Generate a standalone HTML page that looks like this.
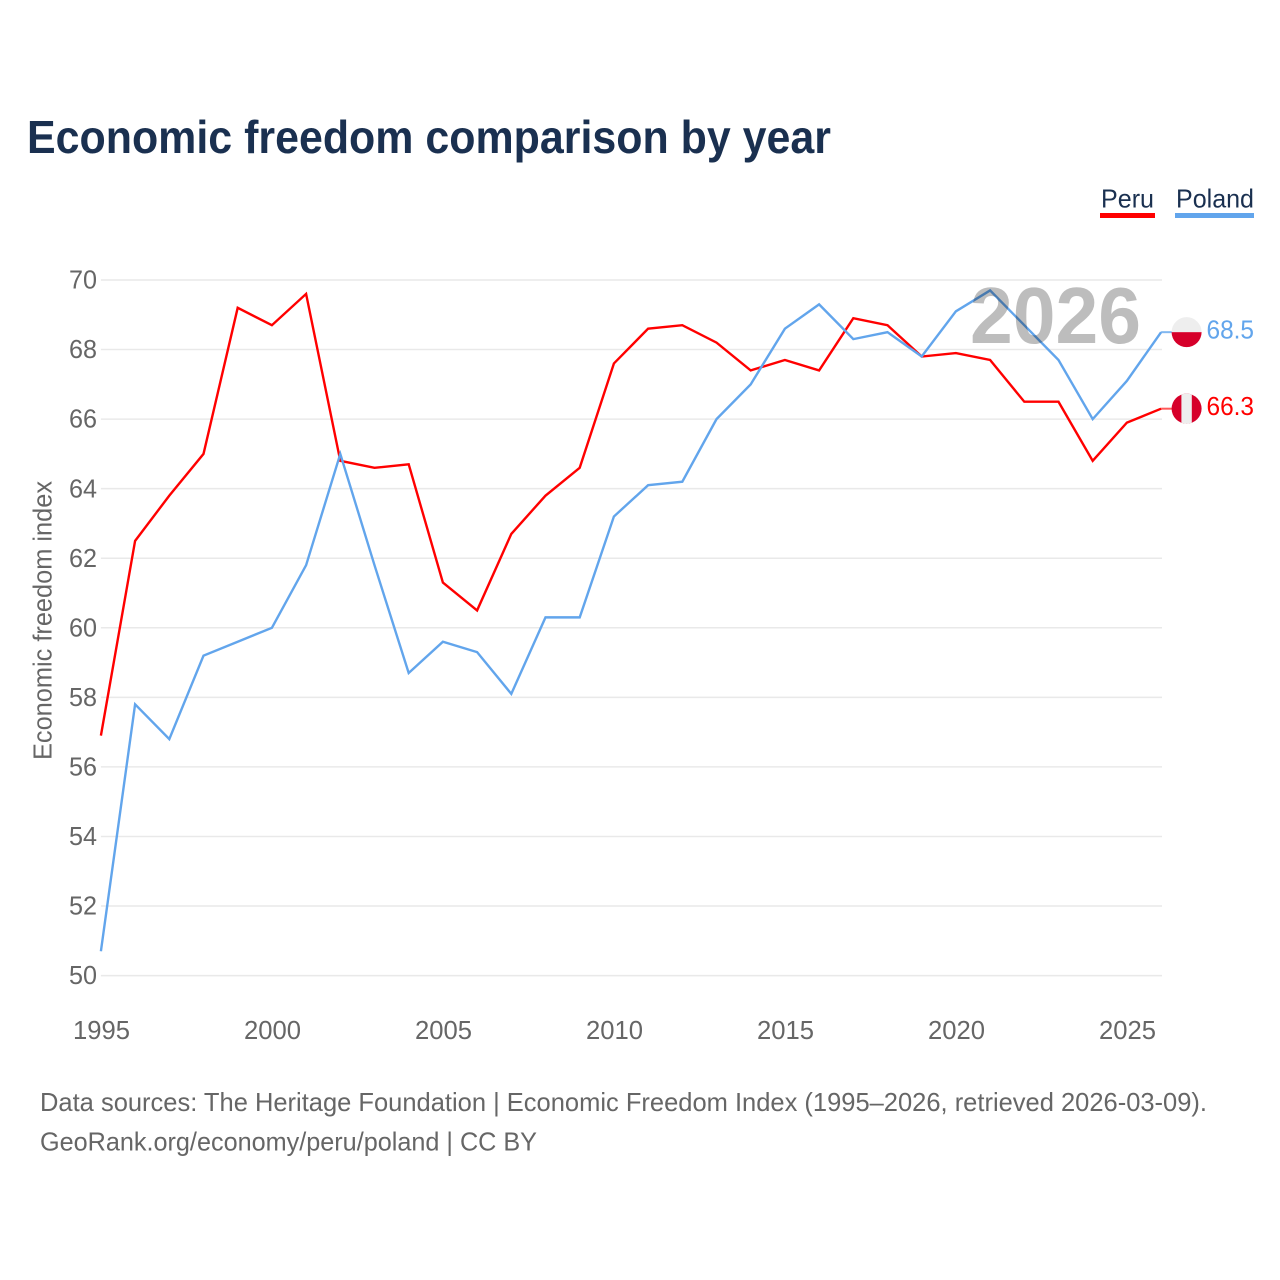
<!DOCTYPE html>
<html lang="en">
<head>
<meta charset="utf-8">
<title>Economic freedom comparison by year</title>
<style>
html,body{margin:0;padding:0;background:#fff;width:1280px;height:1280px;overflow:hidden}
svg{display:block}
text{font-family:"Liberation Sans",sans-serif}
</style>
</head>
<body>
<svg id="chart" xmlns="http://www.w3.org/2000/svg" width="1280" height="1280" viewBox="0 0 1280 1280">
  <rect x="0" y="0" width="1280" height="1280" fill="#ffffff"/>
  <text x="27" y="153" font-size="46" font-weight="700" fill="#1a3050" textLength="804" lengthAdjust="spacingAndGlyphs">Economic freedom comparison by year</text>

  <g>
    <text x="1101" y="207.5" font-size="26" fill="#1a3050" textLength="53" lengthAdjust="spacingAndGlyphs">Peru</text>
    <rect x="1100" y="213" width="55" height="5" fill="#ff0000"/>
  </g>
  <g>
    <text x="1176" y="207.5" font-size="26" fill="#1a3050" textLength="78" lengthAdjust="spacingAndGlyphs">Poland</text>
    <rect x="1175" y="213" width="79" height="5" fill="#62a5ec"/>
  </g>

  <g id="grid"></g>
  <g id="yticks"></g>
  <g id="xticks"></g>
  <text transform="translate(51.5,620.5) rotate(-90)" text-anchor="middle" font-size="25.5" fill="#666666" textLength="279" lengthAdjust="spacingAndGlyphs">Economic freedom index</text>

  <g id="series"></g>

  <text x="970" y="343" font-size="80" font-weight="700" fill="#000000" fill-opacity="0.26" textLength="171" lengthAdjust="spacingAndGlyphs">2026</text>

  <g id="ends"></g>

  <text x="40" y="1111" font-size="26" fill="#666666" textLength="1167" lengthAdjust="spacingAndGlyphs">Data sources: The Heritage Foundation | Economic Freedom Index (1995–2026, retrieved 2026-03-09).</text>
  <text x="40" y="1150.5" font-size="26" fill="#666666" textLength="497" lengthAdjust="spacingAndGlyphs">GeoRank.org/economy/peru/poland | CC BY</text>
</svg>
<script>
const years = [1995,1996,1997,1998,1999,2000,2001,2002,2003,2004,2005,2006,2007,2008,2009,2010,2011,2012,2013,2014,2015,2016,2017,2018,2019,2020,2021,2022,2023,2024,2025,2026];
const peruValues = [56.9,62.5,63.8,65.0,69.2,68.7,69.6,64.8,64.6,64.7,61.3,60.5,62.7,63.8,64.6,67.6,68.6,68.7,68.2,67.4,67.7,67.4,68.9,68.7,67.8,67.9,67.7,66.5,66.5,64.8,65.9,66.3];
const polandValues = [50.7,57.8,56.8,59.2,59.6,60.0,61.8,65.0,61.8,58.7,59.6,59.3,58.1,60.3,60.3,63.2,64.1,64.2,66.0,67.0,68.6,69.3,68.3,68.5,67.8,69.1,69.7,68.7,67.7,66.0,67.1,68.5];
const yTickValues = [50,52,54,56,58,60,62,64,66,68,70];
const xTickValues = [1995,2000,2005,2010,2015,2020,2025];

const NS = 'http://www.w3.org/2000/svg';
const RED = '#ff0000';
const BLUE = '#62a5ec';
function xScale(year){ return 100.9 + (year - 1995) * 34.2; }
function yScale(value){ return 975.6 - (value - 50) * 34.78; }
function make(tag, attrs, parent){
  const el = document.createElementNS(NS, tag);
  for (const k in attrs) el.setAttribute(k, attrs[k]);
  parent.appendChild(el);
  return el;
}

const gridG = document.getElementById('grid');
const yG = document.getElementById('yticks');
yTickValues.forEach(function(v){
  const line = make('line', {x1: 100.9, x2: 1162, y1: yScale(v), y2: yScale(v), stroke: '#e9e9e9', 'stroke-width': 1.5}, gridG);
  
  
  const label = make('text', {x: 97, y: yScale(v) + 8.6, 'text-anchor': 'end', 'font-size': 26, fill: '#666666', textLength: 28, lengthAdjust: 'spacingAndGlyphs'}, yG);
  
  
  label.textContent = v;
});

const xG = document.getElementById('xticks');
xTickValues.forEach(function(v){
  const label = make('text', {x: xScale(v) + 0.6, y: 1039, 'text-anchor': 'middle', 'font-size': 26, fill: '#666666', textLength: 57, lengthAdjust: 'spacingAndGlyphs'}, xG);
  
  
  label.textContent = v;
});

function pathFor(values){
  return values.map(function(v, i){
    return (i ? 'L' : 'M') + xScale(years[i]).toFixed(2) + ' ' + yScale(v).toFixed(2);
  }).join(' ');
}
const seriesG = document.getElementById('series');
const peruLine = make('path', {d: pathFor(peruValues), fill: 'none', stroke: RED, 'stroke-width': 2.4, 'stroke-linejoin': 'miter'}, seriesG);


const polandLine = make('path', {d: pathFor(polandValues), fill: 'none', stroke: BLUE, 'stroke-width': 2.4, 'stroke-linejoin': 'miter'}, seriesG);



const endsG = document.getElementById('ends');
const lastX = xScale(years[years.length - 1]);
const defs = make('defs', {}, endsG);
function addClip(id, cy){
  const cp = make('clipPath', {id: id}, defs);
  make('circle', {cx: 1186.6, cy: cy, r: 15}, cp);
}

/* Poland end marker */
const poV = polandValues[polandValues.length - 1];
const poY = yScale(poV);
const poConn = make('line', {x1: lastX, x2: 1172, y1: poY, y2: poY, stroke: BLUE, 'stroke-width': 2, 'stroke-opacity': 0.8}, endsG);


addClip('clip-poland', poY);
const poFlag = make('g', {'clip-path': 'url(#clip-poland)'}, endsG);


make('rect', {x: 1171, y: poY - 16, width: 31, height: 16, fill: '#eeeeee'}, poFlag);
make('rect', {x: 1171, y: poY, width: 31, height: 16, fill: '#d6002a'}, poFlag);
const poLabel = make('text', {x: 1254, y: poY + 6.3, 'text-anchor': 'end', 'font-size': 26, fill: BLUE, textLength: 47.5, lengthAdjust: 'spacingAndGlyphs'}, endsG);


poLabel.textContent = poV.toFixed(1);

/* Peru end marker */
const peV = peruValues[peruValues.length - 1];
const peY = yScale(peV);
const peConn = make('line', {x1: lastX, x2: 1172, y1: peY, y2: peY, stroke: RED, 'stroke-width': 2, 'stroke-opacity': 0.65}, endsG);


addClip('clip-peru', peY);
const peFlag = make('g', {'clip-path': 'url(#clip-peru)'}, endsG);


make('rect', {x: 1171, y: peY - 16, width: 31, height: 32, fill: '#d6002a'}, peFlag);
make('rect', {x: 1181.4, y: peY - 16, width: 10.4, height: 32, fill: '#eeeeee'}, peFlag);
const peLabel = make('text', {x: 1254, y: peY + 6.3, 'text-anchor': 'end', 'font-size': 26, fill: RED, textLength: 47.5, lengthAdjust: 'spacingAndGlyphs'}, endsG);


peLabel.textContent = peV.toFixed(1);
</script>
</body>
</html>
